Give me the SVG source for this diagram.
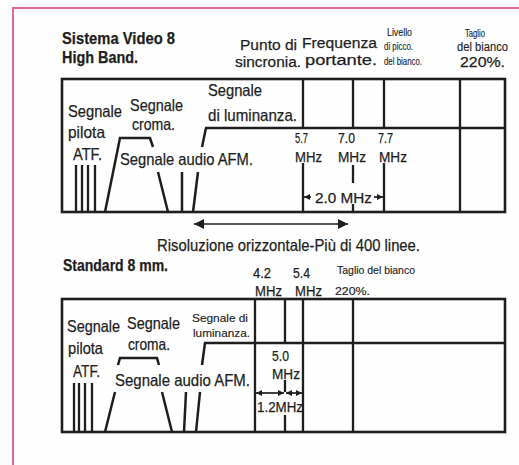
<svg xmlns="http://www.w3.org/2000/svg" width="519" height="465" viewBox="0 0 519 465">
<defs>
<style>
text{font-family:"Liberation Sans",Arial,sans-serif;fill:#1e1e1e;stroke:#1e1e1e;stroke-width:0.25}
.b{font-weight:bold}
.m{font-size:16.5px}
.h{font-size:15.5px}
.s{font-size:11px;stroke-width:0.15}
.f{font-size:14px}
.box{fill:none;stroke:#1e1e1e;stroke-width:2.6}
.ln{fill:none;stroke:#1e1e1e;stroke-width:2.3;stroke-linecap:butt}
.tr{fill:none;stroke:#1e1e1e;stroke-width:2.5;stroke-linejoin:miter}
.dim{fill:none;stroke:#1e1e1e;stroke-width:1.7}
</style>
<marker id="ah" viewBox="0 0 10 10" refX="10" refY="5" markerWidth="15" markerHeight="10" markerUnits="userSpaceOnUse" orient="auto-start-reverse">
<path d="M0,0 L10,5 L0,10 Z" fill="#1e1e1e"/>
</marker>
<marker id="sa" viewBox="0 0 10 10" refX="10" refY="5" markerWidth="6" markerHeight="6" markerUnits="userSpaceOnUse" orient="auto-start-reverse">
<path d="M0,0 L10,5 L0,10 Z" fill="#1e1e1e"/>
</marker>
</defs>
<rect width="519" height="465" fill="#fefefe"/>
<path d="M13,465 V8 H519" fill="none" stroke="#dc6c88" stroke-width="2"/>

<g id="titles">
<text class="b m" x="62" y="44" textLength="113" lengthAdjust="spacingAndGlyphs">Sistema Video 8</text>
<text class="b m" x="62" y="63" textLength="76" lengthAdjust="spacingAndGlyphs">High Band.</text>
<text class="b m" x="63" y="271" textLength="105" lengthAdjust="spacingAndGlyphs">Standard 8 mm.</text>
</g>

<g id="top-headers">
<text class="h" x="240" y="50" textLength="57" lengthAdjust="spacingAndGlyphs">Punto di</text>
<text class="h" x="235" y="67" textLength="66" lengthAdjust="spacingAndGlyphs">sincronia.</text>
<text class="h" x="302" y="48" textLength="75" lengthAdjust="spacingAndGlyphs">Frequenza</text>
<text class="h" x="305" y="65" textLength="72" lengthAdjust="spacingAndGlyphs">portante.</text>
<text class="s" x="387" y="36" textLength="25" lengthAdjust="spacingAndGlyphs">Livello</text>
<text class="s" x="384" y="50" textLength="29" lengthAdjust="spacingAndGlyphs">di picco.</text>
<text class="s" x="384" y="65" textLength="38" lengthAdjust="spacingAndGlyphs">del bianco.</text>
<text class="s" x="465" y="37" textLength="20" lengthAdjust="spacingAndGlyphs">Taglio</text>
<text style="font-size:12px;stroke-width:0.15" x="457" y="51" textLength="51" lengthAdjust="spacingAndGlyphs">del bianco</text>
<text style="font-size:14.5px" x="460" y="67" textLength="45" lengthAdjust="spacingAndGlyphs">220%.</text>
</g>

<g id="top-chart">
<rect class="box" x="62" y="79" width="443" height="133"/>
<path class="ln" d="M205,128 H505 M303,79 V128 M303,163 V212 M353,79 V128 M353,165 V183 M353,204 V212 M384,79 V128 M384,163 V212 M460,79 V212"/>
<path class="ln" d="M76,165 V212 M82,165 V212 M88,165 V212 M95,165 V212"/>
<path class="tr" d="M105,212 L120,138 H150 L153,147 M158,172 L168,212 M182,172 V212 M198,172 L193,212 M202,147 L206,128"/>
<text class="m" x="68" y="117" textLength="54" lengthAdjust="spacingAndGlyphs">Segnale</text>
<text class="m" x="68" y="138" textLength="37" lengthAdjust="spacingAndGlyphs">pilota</text>
<text class="m" x="73" y="160" textLength="29" lengthAdjust="spacingAndGlyphs">ATF.</text>
<text class="m" x="130" y="111" textLength="53" lengthAdjust="spacingAndGlyphs">Segnale</text>
<text class="m" x="132" y="130" textLength="43" lengthAdjust="spacingAndGlyphs">croma.</text>
<text class="m" x="208" y="96" textLength="54" lengthAdjust="spacingAndGlyphs">Segnale</text>
<text class="m" x="208" y="121" textLength="89" lengthAdjust="spacingAndGlyphs">di luminanza.</text>
<text class="m" x="120" y="165" textLength="133" lengthAdjust="spacingAndGlyphs">Segnale audio AFM.</text>
<text class="f" x="295" y="143" textLength="13" lengthAdjust="spacingAndGlyphs">5.7</text>
<text class="f" x="295" y="162" textLength="27" lengthAdjust="spacingAndGlyphs">MHz</text>
<text class="f" x="338" y="143" textLength="17" lengthAdjust="spacingAndGlyphs">7.0</text>
<text class="f" x="338" y="162" textLength="28" lengthAdjust="spacingAndGlyphs">MHz</text>
<text class="f" x="378" y="143" textLength="15" lengthAdjust="spacingAndGlyphs">7.7</text>
<text class="f" x="379" y="162" textLength="28" lengthAdjust="spacingAndGlyphs">MHz</text>
<text style="font-size:15px" x="315" y="203" textLength="57" lengthAdjust="spacingAndGlyphs">2.0 MHz</text>
</g>

<g id="resolution">
<text class="m" x="157" y="251" textLength="263" lengthAdjust="spacingAndGlyphs">Risoluzione orizzontale-Più di 400 linee.</text>
</g>

<g id="bottom-headers">
<text class="f" x="253" y="278" textLength="18" lengthAdjust="spacingAndGlyphs">4.2</text>
<text class="f" x="255" y="296" textLength="27" lengthAdjust="spacingAndGlyphs">MHz</text>
<text class="f" x="293" y="278" textLength="17" lengthAdjust="spacingAndGlyphs">5.4</text>
<text class="f" x="295" y="296" textLength="27" lengthAdjust="spacingAndGlyphs">MHz</text>
<text class="s" x="337" y="274" textLength="78" lengthAdjust="spacingAndGlyphs">Taglio del bianco</text>
<text class="s" x="335" y="295" textLength="35" lengthAdjust="spacingAndGlyphs">220%.</text>
</g>

<g id="bottom-chart">
<rect class="box" x="62" y="299" width="443" height="133"/>
<path class="ln" d="M204,343 H505 M255,299 V432 M285,299 V343 M285,380 V392 M285,415 V432 M303,299 V432 M353,299 V432"/>
<path class="ln" d="M74,383 V432 M79,383 V432 M85,383 V432 M92,383 V432"/>
<path class="tr" d="M115,392 L105,432 M118,365 L120,358 H157 L159,365 M162,392 L172,432 M186,392 L184,432 M200,392 L196,432 M202,365 L205,343"/>
<text class="m" x="67" y="332" textLength="53" lengthAdjust="spacingAndGlyphs">Segnale</text>
<text class="m" x="68" y="354" textLength="35" lengthAdjust="spacingAndGlyphs">pilota</text>
<text class="m" x="73" y="377" textLength="27" lengthAdjust="spacingAndGlyphs">ATF.</text>
<text class="m" x="127" y="329" textLength="53" lengthAdjust="spacingAndGlyphs">Segnale</text>
<text class="m" x="128" y="350" textLength="42" lengthAdjust="spacingAndGlyphs">croma.</text>
<text class="s" x="192" y="322" textLength="56" lengthAdjust="spacingAndGlyphs">Segnale di</text>
<text class="s" x="193" y="337" textLength="57" lengthAdjust="spacingAndGlyphs">luminanza.</text>
<text class="m" x="115" y="386" textLength="135" lengthAdjust="spacingAndGlyphs">Segnale audio AFM.</text>
<text class="f" x="272" y="361" textLength="17" lengthAdjust="spacingAndGlyphs">5.0</text>
<text class="f" x="272" y="379" textLength="28" lengthAdjust="spacingAndGlyphs">MHz</text>
<text class="f" x="257" y="412" textLength="46" lengthAdjust="spacingAndGlyphs">1.2MHz</text>
</g>

<g id="connectors">
<line class="dim" x1="194" y1="224" x2="348" y2="224" stroke-width="3" marker-start="url(#ah)" marker-end="url(#ah)"/>
<line class="dim" x1="311" y1="197" x2="304" y2="197" marker-end="url(#sa)"/>
<line class="dim" x1="374" y1="197" x2="383" y2="197" marker-end="url(#sa)"/>
<line class="dim" x1="256" y1="393" x2="284" y2="393" marker-start="url(#sa)" marker-end="url(#sa)"/>
<line class="dim" x1="286" y1="393" x2="302" y2="393" marker-start="url(#sa)" marker-end="url(#sa)"/>
</g>
</svg>
